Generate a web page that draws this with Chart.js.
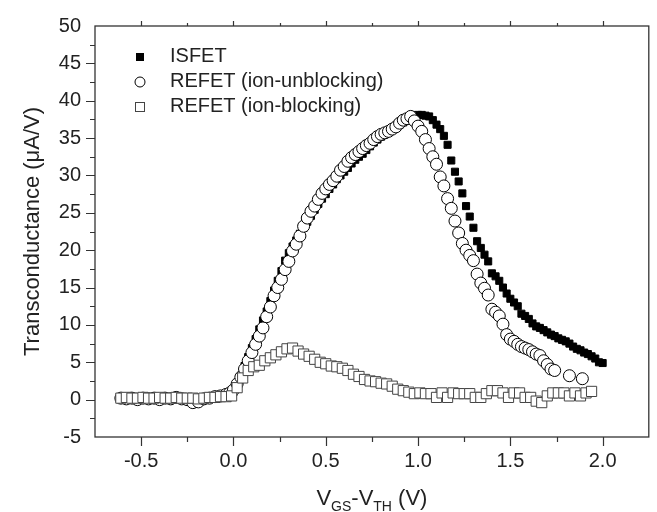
<!DOCTYPE html>
<html>
<head>
<meta charset="utf-8">
<script src="https://cdn.jsdelivr.net/npm/chart.js@4.4.1/dist/chart.umd.min.js"></script>
<style>
  body { margin: 0; background: #fff; }
  #wrap { width: 657px; height: 512px; }
</style>
</head>
<body>
<div id="wrap"><canvas id="gmChart"></canvas></div>
<script>
// ISFET: VGS-VTH (V) and transconductance (uA/V)
const isfetX = [
  -0.61, -0.58, -0.55, -0.52, -0.49, -0.46, -0.43, -0.40, -0.37, -0.34,
  -0.31, -0.28, -0.25, -0.22, -0.19, -0.16, -0.13, -0.10, -0.07, -0.04,
  0.00, 0.02, 0.04, 0.06, 0.08, 0.10, 0.12, 0.14, 0.16, 0.18,
  0.20, 0.22, 0.24, 0.26, 0.28, 0.30, 0.32, 0.34, 0.36, 0.38,
  0.40, 0.42, 0.44, 0.46, 0.48, 0.50, 0.52, 0.54, 0.56, 0.58,
  0.60, 0.62, 0.64, 0.66, 0.68, 0.70, 0.72, 0.74, 0.76, 0.78,
  0.80, 0.82, 0.84, 0.86, 0.88, 0.90, 0.92, 0.94, 0.96, 0.98,
  1.00, 1.02, 1.04, 1.06, 1.08, 1.10, 1.12, 1.14, 1.16, 1.18,
  1.20, 1.22, 1.24, 1.26, 1.28, 1.30, 1.32, 1.34, 1.36, 1.38,
  1.40, 1.42, 1.44, 1.46, 1.48, 1.50, 1.52, 1.54, 1.56, 1.58,
  1.60, 1.62, 1.64, 1.66, 1.68, 1.70, 1.72, 1.74, 1.76, 1.78,
  1.80, 1.82, 1.84, 1.86, 1.88, 1.90, 1.92, 1.94, 1.96, 1.98,
  2.00
];
const isfetY = [
  0.3, 0.2, 0.3, 0.2, 0.2, 0.3, 0.2, 0.2, 0.3, 0.2,
  0.2, 0.3, 0.2, 0.1, 0.1, 0.2, 0.3, 0.4, 0.5, 0.7,
  1.0, 1.9, 3.2, 4.5, 5.7, 6.9, 8.1, 9.4, 10.6, 11.8,
  13.2, 14.6, 15.9, 17.2, 18.6, 19.6, 20.5, 21.3, 22.2, 23.0,
  23.8, 24.6, 25.4, 26.2, 26.9, 27.5, 28.2, 28.8, 29.5, 30.0,
  30.5, 31.0, 31.6, 32.1, 32.5, 32.9, 33.4, 33.9, 34.4, 34.8,
  35.2, 35.5, 35.8, 36.1, 36.4, 36.8, 37.1, 37.4, 37.7, 38.0,
  38.1, 38.1, 38.0, 37.9, 37.4, 36.8, 36.2, 35.3, 34.1, 32.0,
  30.5, 29.2, 27.6, 25.9, 24.5, 23.0, 21.2, 20.3, 19.4, 18.5,
  16.9, 16.5, 15.9, 15.0, 14.2, 13.5, 13.0, 12.5, 11.5, 11.2,
  10.8, 10.2, 9.8, 9.6, 9.3, 9.0, 8.7, 8.5, 8.2, 8.0,
  7.8, 7.5, 7.1, 6.8, 6.6, 6.3, 6.1, 5.8, 5.5, 5.0,
  4.9
];

// REFET (ion-unblocking)
const unblockX = [
  -0.61, -0.58, -0.55, -0.52, -0.49, -0.46, -0.43, -0.40, -0.37, -0.34,
  -0.31, -0.28, -0.25, -0.22, -0.19, -0.16, -0.13, -0.10, -0.07, -0.04,
  -0.02, 0.00, 0.02, 0.04, 0.06, 0.08, 0.10, 0.12, 0.14, 0.16,
  0.18, 0.20, 0.22, 0.24, 0.26, 0.28, 0.30, 0.32, 0.34, 0.36,
  0.38, 0.40, 0.42, 0.44, 0.46, 0.48, 0.50, 0.52, 0.54, 0.56,
  0.58, 0.60, 0.62, 0.64, 0.66, 0.68, 0.70, 0.72, 0.74, 0.76,
  0.78, 0.80, 0.82, 0.84, 0.86, 0.88, 0.90, 0.92, 0.94, 0.96,
  0.98, 1.00, 1.02, 1.04, 1.06, 1.08, 1.10, 1.12, 1.14, 1.16,
  1.18, 1.20, 1.22, 1.24, 1.26, 1.28, 1.30, 1.32, 1.34, 1.36,
  1.38, 1.40, 1.42, 1.44, 1.46, 1.48, 1.50, 1.52, 1.54, 1.56,
  1.58, 1.60, 1.62, 1.64, 1.66, 1.68, 1.70, 1.72, 1.74, 1.82,
  1.89
];
const unblockY = [
  0.2, 0.1, 0.2, 0.0, 0.2, 0.1, 0.2, 0.0, 0.2, 0.1,
  0.3, 0.1, 0.0, -0.4, -0.3, 0.1, 0.2, 0.4, 0.5, 0.7,
  0.9, 1.3, 2.1, 3.0, 4.1, 5.2, 6.3, 7.4, 8.5, 9.6,
  11.1, 12.4, 13.9, 15.0, 16.1, 17.4, 18.5, 19.9, 20.8, 21.9,
  23.2, 24.3, 25.2, 25.9, 26.8, 27.6, 28.2, 28.8, 29.3, 29.9,
  30.7, 31.2, 31.9, 32.4, 32.8, 33.2, 33.6, 34.0, 34.3, 34.8,
  35.2, 35.5, 35.7, 35.9, 36.2, 36.5, 37.0, 37.4, 37.6, 37.9,
  37.3, 36.6, 35.9, 34.8, 33.6, 32.5, 31.5, 29.8, 28.6, 26.9,
  25.6, 23.9, 22.3, 20.9, 20.0, 19.3, 18.6, 16.8, 15.6, 14.9,
  14.0, 12.1, 11.7, 11.2, 10.1, 8.7, 8.1, 7.8, 7.4, 7.1,
  6.9, 6.7, 6.4, 6.1, 5.9, 5.2, 4.7, 4.1, 3.9, 3.2,
  2.8
];

// REFET (ion-blocking)
const blockX = [
  -0.61, -0.58, -0.55, -0.52, -0.49, -0.46, -0.43, -0.40, -0.37, -0.34,
  -0.31, -0.28, -0.25, -0.22, -0.19, -0.16, -0.13, -0.10, -0.07, -0.04,
  -0.01, 0.02, 0.05, 0.08, 0.11, 0.14, 0.17, 0.20, 0.23, 0.26,
  0.29, 0.32, 0.35, 0.38, 0.41, 0.44, 0.47, 0.50, 0.53, 0.56,
  0.59, 0.62, 0.65, 0.68, 0.71, 0.74, 0.77, 0.80, 0.83, 0.86,
  0.89, 0.92, 0.95, 0.98, 1.01, 1.04, 1.07, 1.10, 1.13, 1.16,
  1.19, 1.22, 1.25, 1.28, 1.31, 1.34, 1.37, 1.40, 1.43, 1.46,
  1.49, 1.52, 1.55, 1.58, 1.61, 1.64, 1.67, 1.70, 1.73, 1.76,
  1.79, 1.82, 1.85, 1.88, 1.91, 1.94
];
const blockY = [
  0.2, 0.3, 0.2, 0.2, 0.3, 0.2, 0.2, 0.3, 0.2, 0.2,
  0.3, 0.2, 0.2, 0.2, 0.1, 0.2, 0.3, 0.3, 0.4, 0.4,
  0.5, 1.6, 2.9, 3.9, 4.4, 4.6, 5.2, 5.6, 6.0, 6.4,
  6.8, 6.9, 6.5, 6.1, 5.8, 5.4, 5.0, 4.8, 4.5, 4.4,
  4.2, 3.9, 3.4, 3.1, 2.7, 2.5, 2.4, 2.2, 2.1, 1.8,
  1.4, 1.2, 1.0, 0.8, 0.9, 0.8, 0.8, 0.3, 0.9, 0.3,
  0.9, 0.8, 0.8, 0.8, 0.3, 0.3, 0.8, 1.2, 1.2, 0.9,
  0.3, 0.9, 0.9, 0.3, 0.3, -0.2, -0.4, 0.5, 0.9, 0.9,
  0.9, 0.5, 0.9, 0.5, 0.9, 1.1
];

const xTickValues = [-0.5, 0.0, 0.5, 1.0, 1.5, 2.0];
const seriesNames = ["ISFET", "REFET (ion-unblocking)", "REFET (ion-blocking)"];

const FONT = '"Liberation Sans", Arial, Helvetica, sans-serif';
const INK = '#222';

function toPoints(xs, ys) {
  return xs.map((x, i) => ({ x: x, y: ys[i] }));
}

// frame, minor/major ticks, legend inside the plot and the x title with subscripts
const originStyle = {
  id: 'originStyle',
  afterDraw(chart) {
    const ctx = chart.ctx;
    const a = chart.chartArea;
    const xs = chart.scales.x;
    const ys = chart.scales.y;
    ctx.save();
    ctx.strokeStyle = '#333';
    ctx.lineWidth = 1.3;
    ctx.strokeRect(a.left, a.top, a.right - a.left, a.bottom - a.top);

    ctx.lineWidth = 1.2;
    ctx.beginPath();
    for (let i = -2; i <= 8; i++) {
      const px = Math.round(xs.getPixelForValue(i * 0.25)) + 0.5;
      const major = i % 2 === 0;
      ctx.moveTo(px, a.bottom);
      ctx.lineTo(px, a.bottom + (major ? 9 : 5));
      ctx.moveTo(px, a.top);
      ctx.lineTo(px, a.top - (major ? 5 : 3));
    }
    for (let i = -1; i <= 19; i++) {
      const py = Math.round(ys.getPixelForValue(i * 2.5)) + 0.5;
      const major = i % 2 === 0;
      ctx.moveTo(a.left, py);
      ctx.lineTo(a.left - (major ? 9 : 5), py);
    }
    ctx.stroke();

    // legend
    const rows = [57, 82, 107];
    const mx = 140;
    ctx.lineWidth = 1;
    ctx.fillStyle = '#000';
    ctx.fillRect(mx - 4, rows[0] - 4, 8, 8);
    ctx.strokeStyle = '#000';
    ctx.beginPath();
    ctx.arc(mx, rows[1], 5, 0, Math.PI * 2);
    ctx.stroke();
    ctx.strokeStyle = '#444';
    ctx.strokeRect(mx - 4.5, rows[2] - 4.5, 9, 9);

    ctx.fillStyle = INK;
    ctx.font = '20px ' + FONT;
    ctx.textBaseline = 'middle';
    ctx.textAlign = 'left';
    seriesNames.forEach((name, i) => ctx.fillText(name, 170, rows[i] - 1));

    // x axis title: VGS-VTH (V)
    const big = '22px ' + FONT;
    const small = '14px ' + FONT;
    const parts = [['V', big, 0], ['GS', small, 6], ['-V', big, 0], ['TH', small, 6], [' (V)', big, 0]];
    ctx.textBaseline = 'alphabetic';
    let total = 0;
    parts.forEach(p => { ctx.font = p[1]; total += ctx.measureText(p[0]).width; });
    let tx = (a.left + a.right) / 2 - total / 2;
    parts.forEach(p => {
      ctx.font = p[1];
      ctx.fillText(p[0], tx, 505 + p[2]);
      tx += ctx.measureText(p[0]).width;
    });
    ctx.restore();
  }
};

const ctx = document.getElementById('gmChart').getContext('2d');
const gmChart = new Chart(ctx, {
  type: 'scatter',
  data: {
    datasets: [
      {
        label: seriesNames[0],
        data: toPoints(isfetX, isfetY),
        order: 3,
        pointStyle: 'rect',
        pointRadius: 5,
        backgroundColor: '#000',
        borderColor: '#000',
        borderWidth: 1
      },
      {
        label: seriesNames[1],
        data: toPoints(unblockX, unblockY),
        order: 2,
        pointStyle: 'circle',
        pointRadius: 6,
        backgroundColor: '#fff',
        borderColor: '#000',
        borderWidth: 1
      },
      {
        label: seriesNames[2],
        data: toPoints(blockX, blockY),
        order: 1,
        pointStyle: 'rect',
        pointRadius: 7.2,
        backgroundColor: '#fff',
        borderColor: '#444',
        borderWidth: 1
      }
    ]
  },
  options: {
    responsive: true,
    maintainAspectRatio: false,
    animation: false,
    events: [],
    layout: { padding: { top: 24, right: 1, left: 0, bottom: 0 } },
    plugins: {
      legend: { display: false },
      tooltip: { enabled: false }
    },
    scales: {
      x: {
        type: 'linear',
        min: -0.75,
        max: 2.25,
        grid: { display: false, drawTicks: false },
        border: { display: false },
        ticks: {
          color: INK,
          font: { family: FONT, size: 20 },
          padding: 12,
          maxRotation: 0,
          callback: v => Number(v).toFixed(1)
        },
        afterBuildTicks: scale => { scale.ticks = xTickValues.map(v => ({ value: v })); },
        afterFit: scale => { scale.height = 75; }
      },
      y: {
        min: -5,
        max: 50,
        grid: { display: false, drawTicks: false },
        border: { display: false },
        ticks: {
          stepSize: 5,
          color: INK,
          font: { family: FONT, size: 20 },
          padding: 14,
          autoSkip: false
        },
        title: {
          display: true,
          text: 'Transconductance (μA/V)',
          color: INK,
          font: { family: FONT, size: 22 },
          padding: { top: 20, bottom: 0 }
        },
        afterFit: scale => { scale.width = 95; }
      }
    }
  },
  plugins: [originStyle]
});
</script>
</body>
</html>
